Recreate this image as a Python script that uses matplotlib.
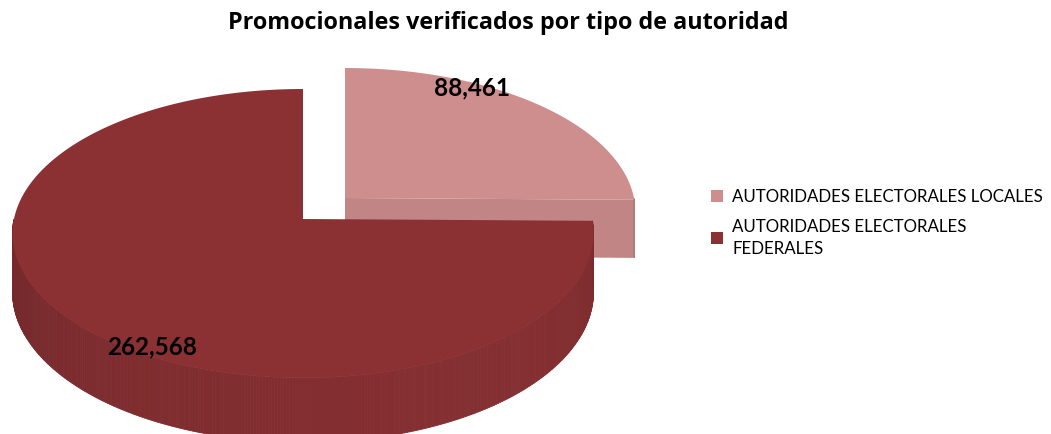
import numpy as np
import matplotlib.pyplot as plt
from matplotlib.patches import Polygon, Patch
from matplotlib.colors import to_rgb

### 3D-looking pie of verified promotional items by authority type
labels = ['AUTORIDADES ELECTORALES LOCALES', 'AUTORIDADES ELECTORALES\nFEDERALES']
values = [88461, 262568]
value_text = ['88,461', '262,568']
colors = ['#ce8e8e', '#8b3134']

W, H = 1051, 434
fig = plt.figure(figsize=(W / 100, H / 100), dpi=100)
ax = fig.add_axes([0, 0, 1, 1])
ax.set_xlim(0, W)
ax.set_ylim(H, 0)
ax.axis('off')

# pie geometry (pixels) with a little perspective
rx, ry, k, depth = 289, 143, 0.10, 58
centers = [(345, 198), (303, 219)]   # local slice is pulled out
label_pos = [(472, 88), (152, 347)]


def pt(c, t, dz=0.0):
    p = 1 + k * np.sin(t)
    return c[0] + rx * np.cos(t) / p, c[1] - ry * np.sin(t) / p + dz / p


def shade(col, f):
    r, g, b = to_rgb(col)
    return (min(r * f, 1), min(g * f, 1), min(b * f, 1))


total = sum(values)
start = np.pi / 2
spans = []
for v in values:
    ext = 2 * np.pi * v / total
    spans.append((start - ext, start))
    start -= ext

# back slice first, then the front one
for i in [0, 1]:
    c = centers[i]
    a0, a1 = spans[i]
    col = colors[i]

    # radial cut face at the start angle (faces the viewer for the local slice)
    if i == 0:
        xe, ye = pt(c, a0)
        xb, yb = pt(c, a0, depth)
        ax.add_patch(Polygon([c, (xe, ye), (xb, yb), (c[0], c[1] + depth)],
                             closed=True, fc=shade(col, 0.935), ec='none'))

    # curved outer side, only the front half shows
    ts = np.linspace(a0, a1, 500)
    ts_m = np.mod(ts, 2 * np.pi)
    for j in range(len(ts) - 1):
        tm = (ts_m[j] + ts_m[j + 1]) / 2
        if not (np.pi <= tm <= 2 * np.pi):
            continue
        p1, p2 = pt(c, ts[j]), pt(c, ts[j + 1])
        q1, q2 = pt(c, ts[j], depth), pt(c, ts[j + 1], depth)
        f = 0.80 + 0.14 * np.sin(tm - np.pi) ** 0.4 + 0.04 * np.cos(tm)
        fc = shade(col, f)
        ax.add_patch(Polygon([p1, p2, q2, q1], closed=True, fc=fc, ec=fc, lw=0.6))

    # top face
    arc = [pt(c, t) for t in np.linspace(a0, a1, 400)]
    ax.add_patch(Polygon([c] + arc, closed=True, fc=col, ec='none'))

    ax.text(label_pos[i][0], label_pos[i][1], value_text[i], ha='center', va='center',
            fontsize=17.5, fontweight='bold', family='Lato', color='black')

fig.text(0.484, 0.947, 'Promocionales verificados por tipo de autoridad', ha='center',
         va='center', fontsize=16.8, fontweight='bold', family='Open Sans')

handles = [Patch(fc=colors[0], ec='none'), Patch(fc=colors[1], ec='none')]
leg = ax.legend(handles, labels, loc='upper left', bbox_to_anchor=(0.662, 0.599),
                frameon=False, prop={'family': 'Lato', 'size': 12.2}, handlelength=0.7,
                handleheight=0.7, handletextpad=0.55, labelspacing=0.8)
for t in leg.get_texts():
    t.set_linespacing(1.45)

plt.savefig('out.png', dpi=100)
